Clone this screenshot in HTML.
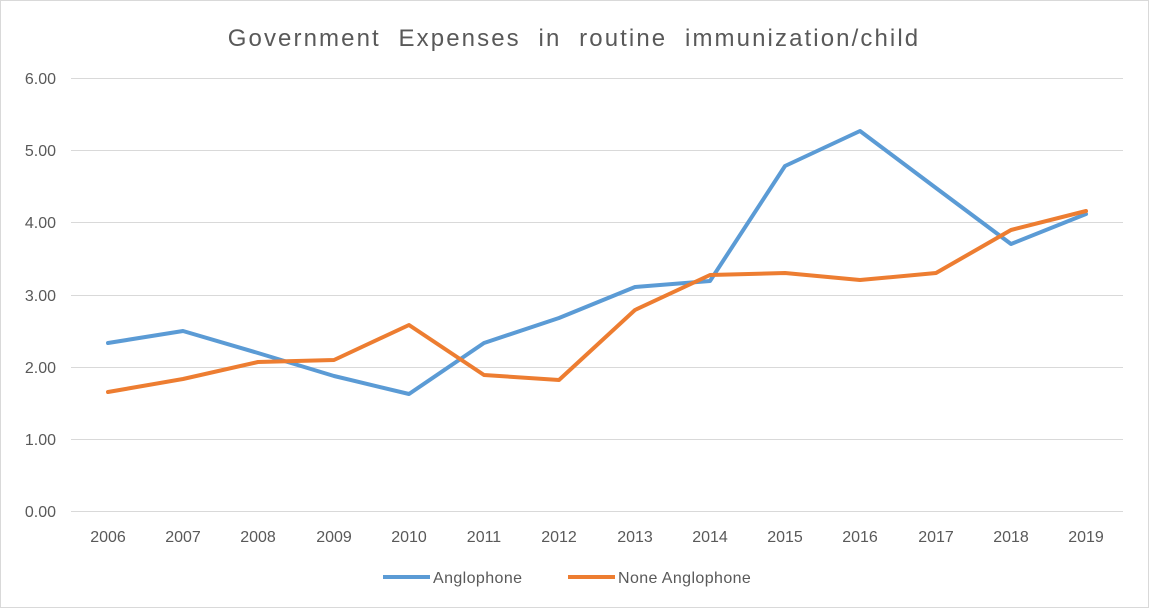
<!DOCTYPE html>
<html><head><meta charset="utf-8"><style>
html,body{margin:0;padding:0;background:#fff;}
svg{display:block;font-family:"Liberation Sans",sans-serif;}
</style></head><body>
<svg width="1149" height="608" viewBox="0 0 1149 608">
<rect x="0.5" y="0.5" width="1148" height="607" fill="#fff" stroke="#d9d9d9"/>
<text x="574" y="46" text-anchor="middle" font-size="24" fill="#595959" letter-spacing="2.1" word-spacing="9">Government Expenses in routine immunization/child</text>
<g stroke="#d9d9d9" stroke-width="1">
<line x1="71" x2="1123" y1="78.5" y2="78.5"/>
<line x1="71" x2="1123" y1="150.5" y2="150.5"/>
<line x1="71" x2="1123" y1="222.5" y2="222.5"/>
<line x1="71" x2="1123" y1="295.5" y2="295.5"/>
<line x1="71" x2="1123" y1="367.5" y2="367.5"/>
<line x1="71" x2="1123" y1="439.5" y2="439.5"/>
<line x1="71" x2="1123" y1="511.5" y2="511.5"/>
</g>
<g font-size="16" fill="#595959" text-anchor="end">
<text x="56" y="84">6.00</text><text x="56" y="156">5.00</text><text x="56" y="228">4.00</text>
<text x="56" y="301">3.00</text><text x="56" y="373">2.00</text><text x="56" y="445">1.00</text><text x="56" y="517">0.00</text>
</g>
<g font-size="16" fill="#595959" text-anchor="middle">
<text x="108" y="542">2006</text><text x="183" y="542">2007</text><text x="258" y="542">2008</text><text x="334" y="542">2009</text>
<text x="409" y="542">2010</text><text x="484" y="542">2011</text><text x="559" y="542">2012</text><text x="635" y="542">2013</text>
<text x="710" y="542">2014</text><text x="785" y="542">2015</text><text x="860" y="542">2016</text><text x="936" y="542">2017</text>
<text x="1011" y="542">2018</text><text x="1086" y="542">2019</text>
</g>
<polyline fill="none" stroke="#5b9bd5" stroke-width="4" stroke-linejoin="round" stroke-linecap="round"
points="108,343 183,331 258,353 334,376 409,394 484,343 559,318 635,287 710,281 785,166 860,131 936,188 1011,244 1086,214"/>
<polyline fill="none" stroke="#ed7d31" stroke-width="4" stroke-linejoin="round" stroke-linecap="round"
points="108,392 183,379 258,362 334,360 409,325 484,375 559,380 635,310 710,275 785,273 860,280 936,273 1011,230 1086,211"/>
<line x1="383" x2="430" y1="577" y2="577" stroke="#5b9bd5" stroke-width="4"/>
<text x="433" y="583" font-size="16" fill="#595959" letter-spacing="0.4">Anglophone</text>
<line x1="568" x2="615" y1="577" y2="577" stroke="#ed7d31" stroke-width="4"/>
<text x="618" y="583" font-size="16" fill="#595959" letter-spacing="0.4">None Anglophone</text>
</svg>
</body></html>
